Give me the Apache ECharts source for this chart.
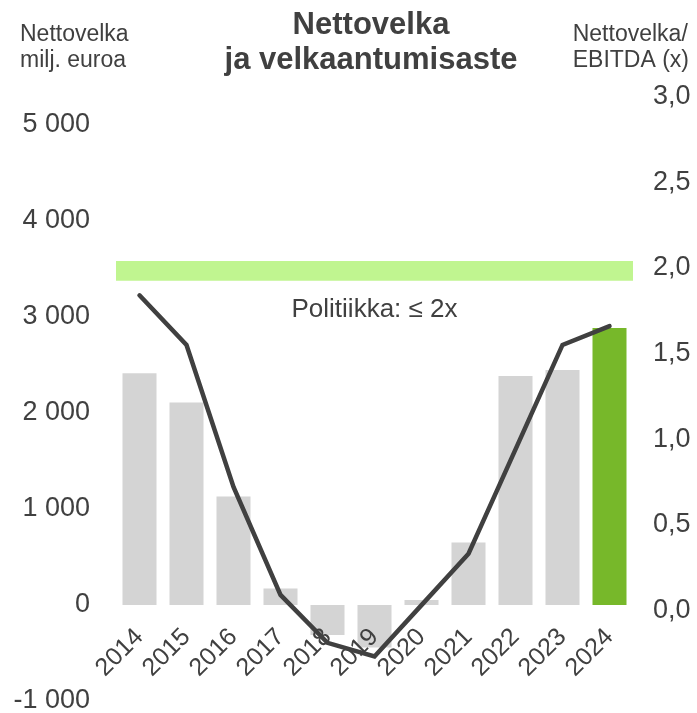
<!DOCTYPE html>
<html>
<head>
<meta charset="utf-8">
<script src="https://cdn.jsdelivr.net/npm/echarts@6/dist/echarts.min.js"></script>
<style>
  html, body { margin: 0; padding: 0; background: #fff; }
  #main { width: 697px; height: 713px; }
</style>
</head>
<body>
<div id="main"></div>
<script>
// vuodet
var years = ['2014', '2015', '2016', '2017', '2018', '2019', '2020', '2021', '2022', '2023', '2024'];
// nettovelka, milj. euroa
var netDebt = [2414, 2108, 1131, 172, -312, -442, 52, 650, 2386, 2448, 2885];
// nettovelka / EBITDA (x)
var leverage = [1.84, 1.55, 0.72, 0.09, -0.19, -0.27, 0.03, 0.33, 0.94, 1.55, 1.66];
// akselien arvot
var leftTicks = [-1000, 0, 1000, 2000, 3000, 4000, 5000];
var rightTicks = [0, 0.5, 1, 1.5, 2, 2.5, 3];
// politiikka-vyöhyke
var policyBand = [1.925, 2.04];
var policyLabel = 'Politiikka: ≤ 2x';
var highlightYear = '2024';

var font = "'Liberation Sans', Arial, sans-serif";
var textColor = '#404040';

var myChart = echarts.init(document.getElementById('main'));

var option = {
  animation: false,
  textStyle: { fontFamily: font },
  title: [
    {
      text: 'Nettovelka\nmilj. euroa',
      left: 15, top: 17,
      textStyle: { fontFamily: font, fontSize: 23, fontWeight: 'normal', color: textColor, lineHeight: 26 }
    },
    {
      text: 'Nettovelka\nja velkaantumisaste',
      left: 366, top: 3, textAlign: 'center',
      textStyle: { fontFamily: font, fontSize: 31, fontWeight: 'bold', color: textColor, lineHeight: 35 }
    },
    {
      text: 'Nettovelka/\nEBITDA (x)',
      right: 3, top: 17,
      textStyle: { fontFamily: font, fontSize: 23, fontWeight: 'normal', color: textColor, lineHeight: 26, align: 'right' }
    }
  ],
  grid: {
    left: 116, right: 64, top: 95, bottom: 12,
    containLabel: false,
    outerBoundsMode: 'none'
  },
  // x-akseli nollatasolle
  xAxis: {
    type: 'category',
    data: years,
    position: 'bottom',
    offset: -96,
    z: 3,
    axisLine: { show: false, onZero: false },
    axisTick: { show: false },
    axisLabel: {
      show: true,
      rotate: 45, margin: 28, interval: 0,
      fontSize: 25, color: textColor, fontFamily: font
    }
  },
  yAxis: [
    {
      type: 'value',
      min: -1000, max: 5312,
      splitLine: { show: false },
      axisLine: { show: false },
      axisTick: { show: false },
      axisLabel: {
        customValues: leftTicks,
        margin: 26,
        fontSize: 27, color: textColor, fontFamily: font,
        formatter: function (v) {
          return String(v).replace(/\B(?=(\d{3})+(?!\d))/g, ' ');
        }
      }
    },
    {
      type: 'value',
      min: -0.53, max: 3.01,
      splitLine: { show: false },
      axisLine: { show: false },
      axisTick: { show: false },
      axisLabel: {
        customValues: rightTicks,
        margin: 20,
        fontSize: 27, color: textColor, fontFamily: font,
        formatter: function (v) {
          return v.toFixed(1).replace('.', ',');
        }
      }
    }
  ],
  series: [
    {
      type: 'bar',
      yAxisIndex: 0,
      barWidth: 34,
      z: 2,
      data: netDebt.map(function (v, i) {
        return {
          value: v,
          itemStyle: { color: years[i] === highlightYear ? '#77b82a' : '#d4d4d4' }
        };
      })
    },
    {
      type: 'line',
      yAxisIndex: 1,
      data: leverage,
      symbol: 'none',
      z: 5,
      lineStyle: { color: '#404040', width: 4.5, cap: 'round', join: 'miter' },
      markArea: {
        silent: true,
        itemStyle: { color: '#c0f590' },
        label: {
          show: true,
          position: 'bottom',
          distance: 16,
          fontSize: 26,
          color: textColor,
          fontFamily: font
        },
        data: [[
          { yAxis: policyBand[0], name: policyLabel },
          { yAxis: policyBand[1] }
        ]]
      }
    }
  ]
};

myChart.setOption(option);
</script>
</body>
</html>
